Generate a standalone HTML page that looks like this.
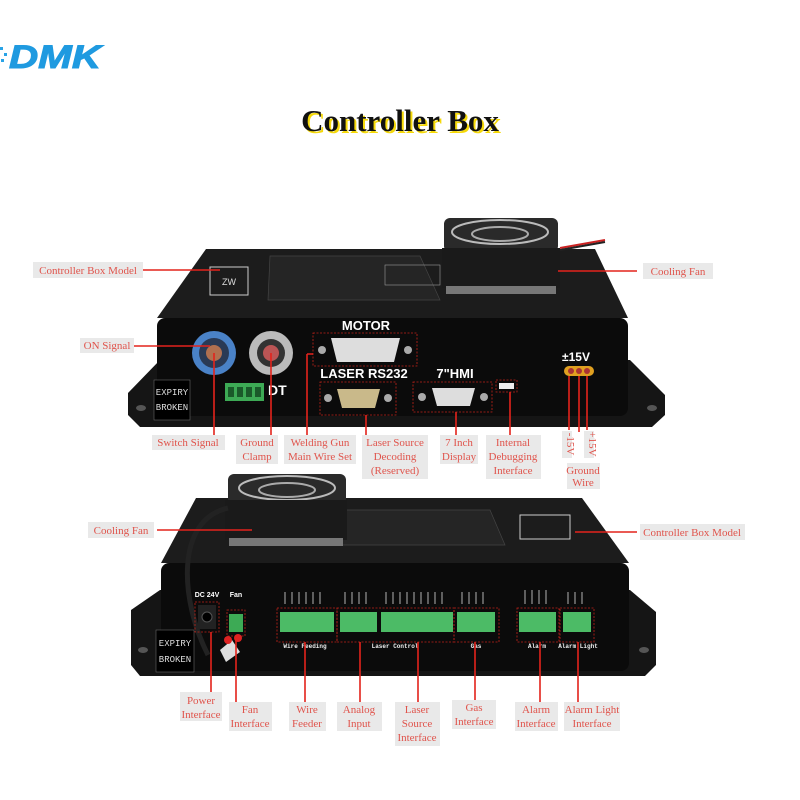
<!DOCTYPE html>
<html><head><meta charset="utf-8"><style>
html,body{margin:0;padding:0;background:#fff;}
svg{display:block}
.l{font-family:"Liberation Serif",serif;font-size:11px;fill:#e0544c;}
.lb{fill:#e9e9e9}
.r{stroke:#e3231c;stroke-width:1.6;fill:none}
.w{font-family:"Liberation Sans",sans-serif;font-weight:bold;fill:#fff}
.d{stroke:#c0221a;stroke-width:0.8;stroke-dasharray:2 1.5;fill:none}
</style></head><body>
<svg width="800" height="800" viewBox="0 0 800 800" xmlns="http://www.w3.org/2000/svg">
<g>
<rect x="0" y="47" width="3" height="3" fill="#29a3e6"/><rect x="4" y="53" width="3" height="3" fill="#29a3e6"/><rect x="1" y="59" width="3" height="3" fill="#29a3e6"/>
<text x="9" y="68" font-family="Liberation Sans,sans-serif" font-weight="bold" font-style="italic" font-size="32" fill="#1f9ae0" textLength="92" lengthAdjust="spacingAndGlyphs" stroke="#1f9ae0" stroke-width="1">DMK</text>
</g>
<text x="402" y="133" text-anchor="middle" font-family="Liberation Serif,serif" font-weight="bold" font-size="31" fill="#f5d90a">Controller Box</text>
<text x="400" y="131" text-anchor="middle" font-family="Liberation Serif,serif" font-weight="bold" font-size="31" fill="#111">Controller Box</text>

<!-- ===== TOP BOX ===== -->
<polygon points="128,393 160,360 630,360 665,395 665,415 652,427 140,427 128,415" fill="#151515"/>
<ellipse cx="141" cy="408" rx="5" ry="3" fill="#555"/><ellipse cx="652" cy="408" rx="5" ry="3" fill="#555"/>
<polygon points="206,249 595,249 628,318 157,318" fill="#1c1c1c"/>
<polygon points="270,256 420,256 440,300 268,300" fill="#252525" stroke="#444" stroke-width="0.7"/>
<rect x="210" y="267" width="38" height="28" fill="none" stroke="#ccc" stroke-width="1"/>
<text x="229" y="285" text-anchor="middle" font-size="9" fill="#ddd" font-family="Liberation Sans,sans-serif">ZW</text>
<rect x="385" y="265" width="55" height="20" fill="none" stroke="#999" stroke-width="0.6"/>
<rect x="157" y="318" width="471" height="98" rx="8" fill="#0b0b0b"/>
<path d="M560 248 L605 240" stroke="#c22" stroke-width="2"/><path d="M560 250 L605 242" stroke="#222" stroke-width="2"/>
<rect x="444" y="218" width="114" height="34" rx="6" fill="#2a2a2a"/>
<ellipse cx="500" cy="232" rx="48" ry="12" fill="none" stroke="#bbb" stroke-width="2"/>
<ellipse cx="500" cy="234" rx="28" ry="7" fill="none" stroke="#aaa" stroke-width="2"/>
<rect x="442" y="248" width="118" height="40" fill="#1a1a1a"/>
<rect x="446" y="286" width="110" height="8" fill="#777"/>
<circle cx="214" cy="353" r="22" fill="#4a82c7"/><circle cx="214" cy="353" r="15" fill="#2a3a55"/><circle cx="214" cy="353" r="8" fill="#b07050"/>
<circle cx="271" cy="353" r="22" fill="#bbb"/><circle cx="271" cy="353" r="14" fill="#333"/><circle cx="271" cy="353" r="8" fill="#b55"/>
<text x="230" y="395" class="w" font-size="14">CF</text><text x="268" y="395" class="w" font-size="14">DT</text>
<rect x="225" y="383" width="39" height="18" fill="#3daa55"/>
<rect x="228" y="387" width="6" height="10" fill="#1a5a2a"/><rect x="237" y="387" width="6" height="10" fill="#1a5a2a"/><rect x="246" y="387" width="6" height="10" fill="#1a5a2a"/><rect x="255" y="387" width="6" height="10" fill="#1a5a2a"/>
<rect x="154" y="380" width="36" height="40" fill="#000" stroke="#666" stroke-width="0.6"/>
<text x="172" y="395" text-anchor="middle" font-size="9" fill="#ddd" font-family="Liberation Mono,monospace">EXPIRY</text>
<text x="172" y="410" text-anchor="middle" font-size="9" fill="#ddd" font-family="Liberation Mono,monospace">BROKEN</text>
<text x="366" y="330" text-anchor="middle" class="w" font-size="13">MOTOR</text>
<rect x="313" y="333" width="104" height="33" class="d"/>
<polygon points="331,338 400,338 394,362 337,362" fill="#ddd"/><circle cx="322" cy="350" r="4" fill="#aaa"/><circle cx="408" cy="350" r="4" fill="#aaa"/>
<text x="364" y="378" text-anchor="middle" class="w" font-size="13">LASER RS232</text>
<rect x="320" y="382" width="76" height="33" class="d"/>
<polygon points="337,389 380,389 375,408 342,408" fill="#c9b98a"/><circle cx="328" cy="398" r="4" fill="#aaa"/><circle cx="388" cy="398" r="4" fill="#aaa"/>
<text x="455" y="378" text-anchor="middle" class="w" font-size="13">7"HMI</text>
<rect x="413" y="382" width="79" height="30" class="d"/>
<polygon points="432,388 475,388 470,406 437,406" fill="#ddd"/><circle cx="422" cy="397" r="4" fill="#aaa"/><circle cx="484" cy="397" r="4" fill="#aaa"/>
<rect x="496" y="380" width="21" height="12" class="d"/><rect x="499" y="383" width="15" height="6" fill="#eee"/>
<text x="576" y="361" text-anchor="middle" class="w" font-size="12">±15V</text>
<rect x="564" y="366" width="30" height="10" rx="5" fill="#e0a020"/>
<circle cx="571" cy="371" r="3" fill="#a33"/><circle cx="579" cy="371" r="3" fill="#a33"/><circle cx="587" cy="371" r="3" fill="#a33"/>

<rect x="33" y="262" width="110" height="16" class="lb"/><text x="88" y="274" text-anchor="middle" class="l">Controller Box Model</text>
<path class="r" d="M143 270 H220"/>
<rect x="643" y="263" width="70" height="16" class="lb"/><text x="678" y="275" text-anchor="middle" class="l">Cooling Fan</text>
<path class="r" d="M558 271 H637"/>
<rect x="80" y="338" width="54" height="15" class="lb"/><text x="107" y="349" text-anchor="middle" class="l">ON Signal</text>
<path class="r" d="M134 346 H210"/>
<path class="r" d="M214 353 V435 M271 353 V435 M307 354 H313 M307 354 V435 M366 415 V435 M456 412 V435 M510 392 V435 M569 376 V430 M579 376 V432 M587 376 V430"/>
<rect x="152" y="435" width="73" height="15" class="lb"/><text x="188" y="446" text-anchor="middle" class="l">Switch Signal</text>
<rect x="236" y="435" width="42" height="29" class="lb"/><text x="257" y="446" text-anchor="middle" class="l">Ground</text><text x="257" y="460" text-anchor="middle" class="l">Clamp</text>
<rect x="284" y="435" width="72" height="29" class="lb"/><text x="320" y="446" text-anchor="middle" class="l">Welding Gun</text><text x="320" y="460" text-anchor="middle" class="l">Main Wire Set</text>
<rect x="362" y="435" width="66" height="44" class="lb"/><text x="395" y="446" text-anchor="middle" class="l">Laser Source</text><text x="395" y="460" text-anchor="middle" class="l">Decoding</text><text x="395" y="474" text-anchor="middle" class="l">(Reserved)</text>
<rect x="440" y="435" width="38" height="29" class="lb"/><text x="459" y="446" text-anchor="middle" class="l">7 Inch</text><text x="459" y="460" text-anchor="middle" class="l">Display</text>
<rect x="486" y="435" width="55" height="44" class="lb"/><text x="513" y="446" text-anchor="middle" class="l">Internal</text><text x="513" y="460" text-anchor="middle" class="l">Debugging</text><text x="513" y="474" text-anchor="middle" class="l">Interface</text>
<rect x="562" y="431" width="10" height="27" class="lb"/><text x="567" y="444" text-anchor="middle" class="l" font-size="9" transform="rotate(90 567 444)">-15V</text>
<rect x="584" y="431" width="10" height="27" class="lb"/><text x="589" y="444" text-anchor="middle" class="l" font-size="9" transform="rotate(90 589 444)">+15V</text>
<rect x="567" y="463" width="33" height="26" class="lb"/><text x="583" y="474" text-anchor="middle" class="l" font-size="10">Ground</text><text x="583" y="486" text-anchor="middle" class="l" font-size="10">Wire</text>

<!-- ===== BOTTOM BOX ===== -->
<polygon points="131,610 160,590 630,590 656,612 656,665 645,676 140,676 131,665" fill="#151515"/>
<ellipse cx="143" cy="650" rx="5" ry="3" fill="#555"/><ellipse cx="644" cy="650" rx="5" ry="3" fill="#555"/>
<polygon points="196,498 582,498 629,563 161,563" fill="#1c1c1c"/>
<polygon points="300,510 490,510 505,545 300,545" fill="#252525" stroke="#444" stroke-width="0.7"/>
<rect x="520" y="515" width="50" height="24" fill="none" stroke="#ccc" stroke-width="1"/>
<rect x="161" y="563" width="468" height="108" rx="8" fill="#0b0b0b"/>
<rect x="228" y="474" width="118" height="32" rx="6" fill="#2a2a2a"/>
<ellipse cx="287" cy="488" rx="48" ry="12" fill="none" stroke="#bbb" stroke-width="2"/>
<ellipse cx="287" cy="490" rx="28" ry="7" fill="none" stroke="#aaa" stroke-width="2"/>
<rect x="225" y="500" width="122" height="40" fill="#1a1a1a"/>
<rect x="229" y="538" width="114" height="8" fill="#777"/>
<path d="M228 508 C175 520 180 600 208 655" stroke="#222" stroke-width="5" fill="none"/>
<rect x="156" y="630" width="38" height="42" fill="#000" stroke="#666" stroke-width="0.6"/>
<text x="175" y="646" text-anchor="middle" font-size="9" fill="#ddd" font-family="Liberation Mono,monospace">EXPIRY</text>
<text x="175" y="662" text-anchor="middle" font-size="9" fill="#ddd" font-family="Liberation Mono,monospace">BROKEN</text>
<text x="207" y="597" text-anchor="middle" class="w" font-size="7">DC 24V</text><text x="236" y="597" text-anchor="middle" class="w" font-size="7">Fan</text>
<rect x="195" y="602" width="24" height="30" class="d"/><rect x="198" y="605" width="18" height="24" fill="#222"/><circle cx="207" cy="617" r="5" fill="#000" stroke="#555"/>
<rect x="227" y="610" width="18" height="26" class="d"/><rect x="229" y="614" width="14" height="18" fill="#3daa55"/>
<path d="M220 650 L232 640 L240 652 L226 662 Z" fill="#ddd"/><circle cx="228" cy="640" r="4" fill="#d22"/><circle cx="238" cy="638" r="4" fill="#d22"/>
<g fill="#4cbb66">
<rect x="280" y="612" width="54" height="20"/><rect x="340" y="612" width="37" height="20"/><rect x="381" y="612" width="72" height="20"/>
<rect x="457" y="612" width="38" height="20"/><rect x="519" y="612" width="37" height="20"/><rect x="563" y="612" width="28" height="20"/>
</g>
<g class="d"><rect x="277" y="608" width="60" height="34"/><rect x="337" y="608" width="117" height="34"/><rect x="454" y="608" width="45" height="34"/><rect x="517" y="608" width="42" height="34"/><rect x="560" y="608" width="34" height="34"/></g>
<g font-family="Liberation Mono,monospace" font-size="6" font-weight="bold" fill="#eee" text-anchor="middle">
<text x="305" y="648">Wire Feeding</text><text x="395" y="648">Laser Control</text><text x="476" y="648">Gas</text><text x="537" y="648">Alarm</text><text x="578" y="648">Alarm Light</text>
</g>
<g stroke="#ddd" stroke-width="0.8"><path d="M285 604v-12M292 604v-12M299 604v-12M306 604v-12M313 604v-12M320 604v-12M345 604v-12M352 604v-12M359 604v-12M366 604v-12M386 604v-12M393 604v-12M400 604v-12M407 604v-12M414 604v-12M421 604v-12M428 604v-12M435 604v-12M442 604v-12M462 604v-12M469 604v-12M476 604v-12M483 604v-12M525 604v-14M532 604v-14M539 604v-14M546 604v-14M568 604v-12M575 604v-12M582 604v-12"/></g>

<rect x="88" y="522" width="66" height="16" class="lb"/><text x="121" y="534" text-anchor="middle" class="l">Cooling Fan</text>
<path class="r" d="M157 530 H252"/>
<rect x="640" y="524" width="105" height="16" class="lb"/><text x="692" y="536" text-anchor="middle" class="l">Controller Box Model</text>
<path class="r" d="M575 532 H637"/>
<path class="r" d="M211 632 V693 M236 636 V702 M305 642 V702 M360 642 V702 M418 642 V702 M475 642 V700 M540 642 V702 M578 642 V702"/>
<rect x="180" y="692" width="42" height="29" class="lb"/><text x="201" y="704" text-anchor="middle" class="l">Power</text><text x="201" y="718" text-anchor="middle" class="l">Interface</text>
<rect x="229" y="702" width="43" height="29" class="lb"/><text x="250" y="713" text-anchor="middle" class="l">Fan</text><text x="250" y="727" text-anchor="middle" class="l">Interface</text>
<rect x="289" y="702" width="37" height="29" class="lb"/><text x="307" y="713" text-anchor="middle" class="l">Wire</text><text x="307" y="727" text-anchor="middle" class="l">Feeder</text>
<rect x="337" y="702" width="45" height="29" class="lb"/><text x="359" y="713" text-anchor="middle" class="l">Analog</text><text x="359" y="727" text-anchor="middle" class="l">Input</text>
<rect x="395" y="702" width="45" height="44" class="lb"/><text x="417" y="713" text-anchor="middle" class="l">Laser</text><text x="417" y="727" text-anchor="middle" class="l">Source</text><text x="417" y="741" text-anchor="middle" class="l">Interface</text>
<rect x="452" y="700" width="44" height="29" class="lb"/><text x="474" y="711" text-anchor="middle" class="l">Gas</text><text x="474" y="725" text-anchor="middle" class="l">Interface</text>
<rect x="515" y="702" width="43" height="29" class="lb"/><text x="536" y="713" text-anchor="middle" class="l">Alarm</text><text x="536" y="727" text-anchor="middle" class="l">Interface</text>
<rect x="564" y="702" width="56" height="29" class="lb"/><text x="592" y="713" text-anchor="middle" class="l">Alarm Light</text><text x="592" y="727" text-anchor="middle" class="l">Interface</text>
</svg>
</body></html>
